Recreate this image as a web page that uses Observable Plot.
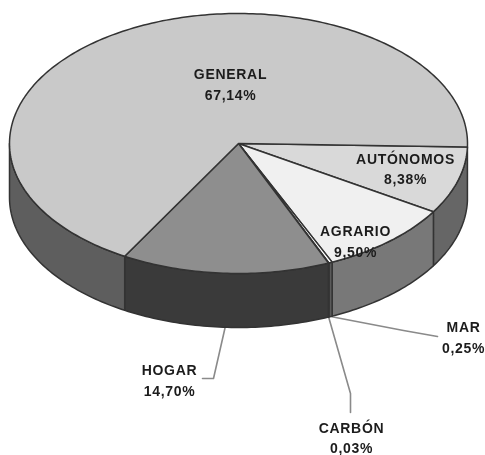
<!DOCTYPE html>
<html>
<head>
<meta charset="utf-8">
<script src="https://cdn.jsdelivr.net/npm/d3@7"></script>
<script src="https://cdn.jsdelivr.net/npm/@observablehq/plot@0.6"></script>
<style>
  html, body { margin: 0; padding: 0; background: #fff; }
  svg { display: block; filter: blur(0.7px); }
</style>
</head>
<body>
<div id="chart"></div>
<script>
// Data
const categories = ["AUTÓNOMOS", "AGRARIO", "MAR", "CARBÓN", "HOGAR", "GENERAL"];
const shares = [8.38, 9.5, 0.25, 0.03, 14.7, 67.14];

// Styles per category
const topColors = ["#d9d9d9", "#f0f0f0", "#ffffff", "#ffffff", "#8e8e8e", "#c9c9c9"];
const sideColors = ["#666666", "#787878", "#5a5a5a", "#5a5a5a", "#3a3a3a", "#5e5e5e"];

// Pie layout, in pixels
const cx = 238, cy = 143, rx = 229, ry = 130, depth = 54, startDeg = 1.5;
const labelPlaces = [[405, 167], [355, 239.5], [463, 335.5], [351, 436], [169, 378.5], [230, 82.5]];
const leaderBends = {
  "MAR": [[403, 330], [437, 336]],
  "CARBÓN": [[350, 393], [350, 412]],
  "HOGAR": [[213, 378], [202, 378]]
};

// Angular extent of each slice, from its share
let running = 0;
const slices = categories.map((name, i) => {
  const a0 = startDeg + running * 3.6;
  running += shares[i];
  const a1 = startDeg + running * 3.6;
  return {name, share: shares[i], a0, a1, i};
});
const rim = (deg, drop = 0) => ({
  x: cx + rx * Math.cos(deg * Math.PI / 180),
  y: cy + ry * Math.sin(deg * Math.PI / 180) + drop
});
const arc = (a0, a1, drop = 0) => {
  const n = Math.max(1, Math.ceil(a1 - a0));
  return d3.range(n + 1).map(k => rim(a0 + (a1 - a0) * k / n, drop));
};
const lineOpts = (fill) => ({x: "x", y: "y", fill, stroke: "#333333", strokeWidth: 1.5, curve: "linear"});

const sideMarks = slices.filter(s => s.a0 < 180).map(s => {
  const end = Math.min(s.a1, 180);
  const pts = [...arc(s.a0, end), ...arc(s.a0, end, depth).reverse()];
  pts.push(pts[0]);
  return Plot.line(pts, lineOpts(sideColors[s.i]));
});
const topMarks = slices.map(s => {
  const pts = [{x: cx, y: cy}, ...arc(s.a0, s.a1), {x: cx, y: cy}];
  return Plot.line(pts, lineOpts(topColors[s.i]));
});
const leaderMarks = slices.filter(s => leaderBends[s.name]).map(s => {
  const start = rim((s.a0 + s.a1) / 2, depth);
  const pts = [start, ...leaderBends[s.name].map(([x, y]) => ({x, y}))];
  return Plot.line(pts, {x: "x", y: "y", stroke: "#8a8a8a", strokeWidth: 1.6, curve: "linear"});
});

const pct = v => v.toFixed(2).replace(".", ",") + "%";
const labels = slices.map(s => ({
  x: labelPlaces[s.i][0],
  y: labelPlaces[s.i][1],
  text: `${s.name}\n${pct(s.share)}`
}));

const chart = Plot.plot({
  width: 485,
  height: 455,
  margin: 0,
  x: {domain: [0, 485], range: [0, 485], axis: null},
  y: {domain: [0, 455], range: [0, 455], axis: null},
  marks: [
    ...leaderMarks,
    ...sideMarks,
    ...topMarks,
    Plot.text(labels, {
      x: "x", y: "y", text: "text",
      fontFamily: "Liberation Sans",
      fontWeight: "bold",
      fontSize: 14,
      lineHeight: 1.48,
      fill: "#1c1c1c",
      textAnchor: "middle",
      lineAnchor: "middle"
    })
  ]
});
chart.style.background = "#fff";
chart.querySelectorAll("text").forEach(t => t.style.letterSpacing = "0.7px");
document.getElementById("chart").appendChild(chart);
</script>
</body>
</html>
